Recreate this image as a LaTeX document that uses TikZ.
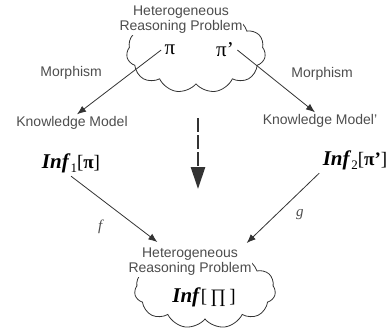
\documentclass[tikz,border=0pt]{standalone}
\usepackage{fontspec}
\setmainfont{Liberation Sans}
\newfontfamily\tms{Liberation Serif}
\usetikzlibrary{arrows.meta,shapes.symbols}

\definecolor{ink}{HTML}{4D4D4D}
\definecolor{edgegray}{HTML}{333333}
\newcommand{\infof}[2]{\textbf{\textit{Inf}}\raisebox{-4pt}{\fontsize{13}{13}\selectfont #1}{\fontsize{19}{20}\selectfont[#2]}}

\begin{document}
\begin{tikzpicture}[x=1pt,y=-1pt,>={Latex[length=9pt,width=7pt]},
    every node/.style={text=ink,font=\fontsize{14}{15}\selectfont},
    puff/.style={cloud,cloud puffs=11,cloud puff arc=115,cloud ignores aspect,draw=edgegray,line width=0.8pt,
                 minimum width=139pt,minimum height=82pt},
    title/.style={fill=white,align=center,inner sep=1pt},
    lbl/.style={inner sep=2pt},
    sym/.style={font=\tms\fontsize{21}{22}\selectfont,text=black},
    ]
    \useasboundingbox (0,0) rectangle (391,327);

    \node[puff]   (hrp1) at (196,52)                        {};
    \node[title]  (t1)   at (181,20)                        {Heterogeneous\\Reasoning Problem};
    \node[sym]    (pi)   at (170,50)                        {π};
    \node[sym]    (pip)  at (225,50)                        {π’};
    \node[lbl]    (km1)  at (72,123)                        {Knowledge Model};
    \node[lbl]    (km2)  at (320,121)                       {Knowledge Model'};
    \node[sym]    (inf1) at (71,163)                        {\infof{1}{\textbf{π}}};
    \node[sym]    (inf2) at (355,160)                       {\infof{2}{\textbf{π’}}};
    \node[puff,minimum width=141pt,minimum height=77pt] (hrp2) at (205,290) {};
    \node[title]  (t2)   at (190,262)                       {Heterogeneous\\Reasoning Problem};
    \node[sym]    (infp) at (204,297)                       {\textbf{\textit{Inf}}{\fontsize{19}{20}\selectfont[\,∏\,]}};
    \coordinate   (dtop) at (198,118);
    \coordinate   (dbot) at (198,189);

    \path[->,color=edgegray,line width=0.8pt]
                (pi.west)   edge  node[midway,xshift=-48pt,yshift=9pt] {Morphism} (km1.60)
                (pip.east)  edge  node[midway,xshift=46pt,yshift=7pt]  {Morphism} (km2.120)
                (inf1.south)       edge  node[midway,xshift=-14pt,yshift=-18pt,font=\tms\itshape\fontsize{15}{15}\selectfont] {f} ([xshift=30pt,yshift=5pt]t2.north west)
                (inf2.south west)  edge  node[midway,xshift=17pt,yshift=-6pt,font=\tms\itshape\fontsize{15}{15}\selectfont]  {g} ([xshift=-6pt,yshift=4pt]t2.north east)
                ;
    \draw[edgegray,line width=2.7pt,dash pattern=on 14pt off 3pt,-{Triangle[length=22pt,width=14pt]}] (dtop) -- (dbot);
\end{tikzpicture}
\end{document}
